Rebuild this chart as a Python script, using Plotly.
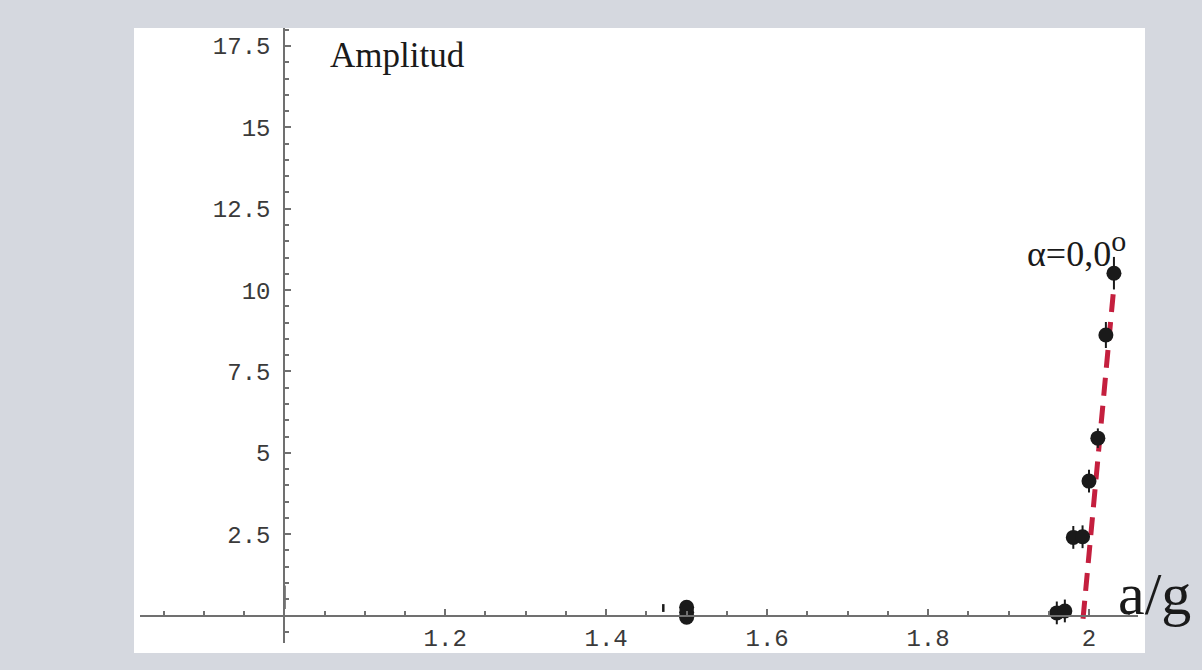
import plotly.graph_objects as go

# measured amplitude vs. a/g (alpha = 0.0 deg)
ag_vals = [2.031, 2.021, 2.011, 2.000, 1.9805, 1.992, 1.960, 1.970, 1.5, 1.5, 1.5]
amp_vals = [10.52, 8.62, 5.45, 4.13, 2.40, 2.42, 0.08, 0.14, 0.25, 0.10, -0.05]
amp_err = [0.5, 0.4, 0.3, 0.35, 0.35, 0.35, 0.35, 0.35, 0.0, 0.0, 0.0]

# error bars drawn without a marker
bar_x = [1.0, 1.471]
bar_y = [0.56, 0.23]
bar_err = [0.36, 0.12]

# fitted threshold line
fit_x = [1.9926, 2.0305]
fit_y = [-0.1, 10.0]

x_ticks = [1.2, 1.4, 1.6, 1.8, 2.0]
x_ticktext = ["1.2", "1.4", "1.6", "1.8", "2"]
y_ticks = [2.5, 5, 7.5, 10, 12.5, 15, 17.5]
y_ticktext = ["2.5", "5", "7.5", "10", "12.5", "15", "17.5"]

x_range = [0.8207, 2.0609]
y_range = [-0.845, 18.055]
x_domain = [6 / 1011, 1004 / 1011]
y_domain = [10 / 625, 1.0]

axis_col = "#707070"
tick_font = dict(family="Liberation Mono", size=24, color="#3a3a3a")


def cross_pos(rng, dom, value=0.0):
    """paper fraction where `value` falls on an axis with range rng / domain dom"""
    return dom[0] + (value - rng[0]) / (rng[1] - rng[0]) * (dom[1] - dom[0])


fig = go.Figure()

fig.add_trace(go.Scatter(
    x=fit_x, y=fit_y, mode="lines",
    line=dict(color="#c41f3e", width=5, dash="18px,10px"),
    hoverinfo="skip", showlegend=False,
))

fig.add_trace(go.Scatter(
    x=bar_x, y=bar_y, mode="markers",
    marker=dict(size=1, color="rgba(0,0,0,0)"),
    error_y=dict(type="data", array=bar_err, color="#1a1a1a", thickness=2.5, width=0),
    showlegend=False,
))

fig.add_trace(go.Scatter(
    x=ag_vals, y=amp_vals, mode="markers",
    marker=dict(size=15, color="#1a1a1a"),
    error_y=dict(type="data", array=amp_err, color="#1a1a1a", thickness=2, width=0),
    showlegend=False,
))

fig.update_layout(
    width=1202, height=670, autosize=False,
    margin=dict(l=134, r=57, t=28, b=17),
    paper_bgcolor="#d5d8df",
    plot_bgcolor="#ffffff",
    shapes=[dict(type="rect", xref="paper", yref="paper", x0=0, x1=1, y0=0, y1=1,
                 fillcolor="#ffffff", line=dict(width=0), layer="below")],
    xaxis=dict(
        range=x_range, domain=x_domain, anchor="free",
        position=cross_pos(y_range, y_domain),
        showgrid=False, zeroline=False,
        showline=True, linecolor=axis_col, linewidth=2,
        tickmode="array", tickvals=x_ticks, ticktext=x_ticktext,
        ticks="inside", ticklen=6, tickwidth=1.5, tickcolor=axis_col,
        ticklabelstandoff=1,
        tickfont=tick_font,
        minor=dict(tickmode="linear", tick0=0, dtick=0.05, ticks="inside",
                   ticklen=4, tickwidth=1.5, tickcolor=axis_col),
    ),
    yaxis=dict(
        range=y_range, domain=y_domain, anchor="free",
        position=cross_pos(x_range, x_domain, 1.0),
        showgrid=False, zeroline=False,
        showline=True, linecolor=axis_col, linewidth=2,
        tickmode="array", tickvals=y_ticks, ticktext=y_ticktext,
        ticks="inside", ticklen=6, tickwidth=1.5, tickcolor=axis_col,
        ticklabelstandoff=8,
        tickfont=tick_font,
        minor=dict(tickmode="linear", tick0=0, dtick=0.5, ticks="inside",
                   ticklen=4, tickwidth=1.5, tickcolor=axis_col),
    ),
    annotations=[
        dict(text="Amplitud", xref="paper", yref="paper",
             x=(328 - 134) / 1011, y=(653 - 55) / 625,
             xanchor="left", yanchor="middle", showarrow=False,
             font=dict(family="Liberation Serif", size=35, color="#1a1a1a")),
        dict(text="a/g", xref="paper", yref="paper",
             x=(1116 - 134) / 1011, y=(653 - 594) / 625,
             xanchor="left", yanchor="middle", showarrow=False,
             font=dict(family="Liberation Serif", size=60, color="#1a1a1a")),
        dict(text="α=0,0<sup><span style='font-size:30px'>o</span></sup>",
             xref="paper", yref="paper",
             x=(1025 - 134) / 1011, y=(653 - 249) / 625,
             xanchor="left", yanchor="middle", showarrow=False,
             font=dict(family="Liberation Serif", size=36, color="#1a1a1a")),
    ],
)

fig.write_html("out.html")
